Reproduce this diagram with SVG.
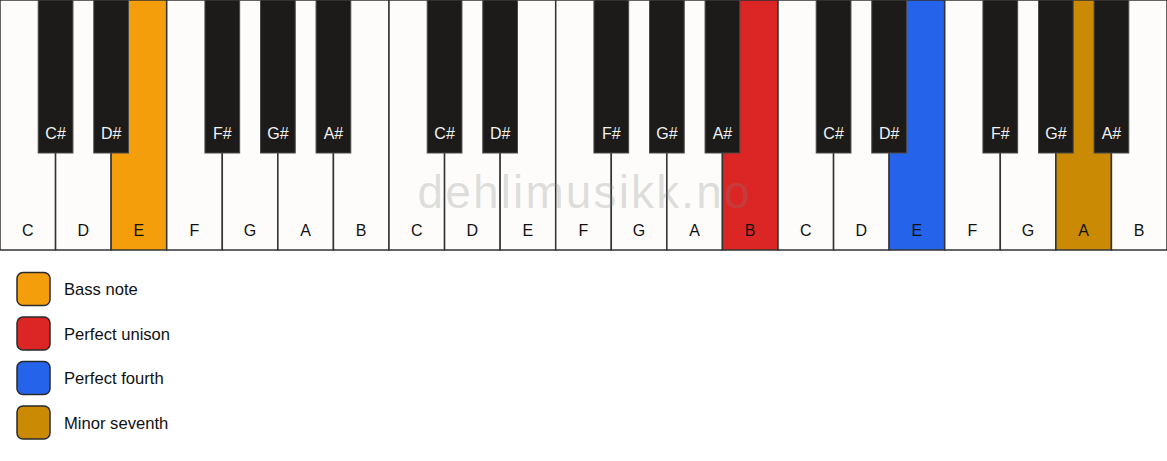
<svg xmlns="http://www.w3.org/2000/svg" width="1167" height="461" viewBox="0 0 1167 461">
<style>
.w{fill:#fdfcfa;stroke:#333;stroke-width:1.5}
.b{fill:#1c1b19;stroke:#4a4a4a;stroke-width:1}
.t{font-family:"Liberation Sans",Arial,sans-serif;font-size:16px;text-anchor:middle}
.tw{fill:#111}
.tb{fill:#f2f2f2}
.lg{stroke:#2a2a2a;stroke-width:1.5}
.lt{font-family:"Liberation Sans",Arial,sans-serif;font-size:16.6px;fill:#111;dominant-baseline:central}
</style>
<rect width="1167" height="461" fill="#ffffff"/>
<g id="white-keys">
<g id="w0"><rect class="w" x="0" y="0" width="55.57" height="250"/><text class="t tw" x="27.79" y="236">C</text></g>
<g id="w1"><rect class="w" x="55.57" y="0" width="55.57" height="250"/><text class="t tw" x="83.36" y="236">D</text></g>
<g id="w2"><rect class="w" x="111.14" y="0" width="55.57" height="250" style="fill:#f59e0b"/><text class="t tw" x="138.93" y="236">E</text></g>
<g id="w3"><rect class="w" x="166.71" y="0" width="55.57" height="250"/><text class="t tw" x="194.5" y="236">F</text></g>
<g id="w4"><rect class="w" x="222.29" y="0" width="55.57" height="250"/><text class="t tw" x="250.07" y="236">G</text></g>
<g id="w5"><rect class="w" x="277.86" y="0" width="55.57" height="250"/><text class="t tw" x="305.64" y="236">A</text></g>
<g id="w6"><rect class="w" x="333.43" y="0" width="55.57" height="250"/><text class="t tw" x="361.21" y="236">B</text></g>
<g id="w7"><rect class="w" x="389" y="0" width="55.57" height="250"/><text class="t tw" x="416.79" y="236">C</text></g>
<g id="w8"><rect class="w" x="444.57" y="0" width="55.57" height="250"/><text class="t tw" x="472.36" y="236">D</text></g>
<g id="w9"><rect class="w" x="500.14" y="0" width="55.57" height="250"/><text class="t tw" x="527.93" y="236">E</text></g>
<g id="w10"><rect class="w" x="555.71" y="0" width="55.57" height="250"/><text class="t tw" x="583.5" y="236">F</text></g>
<g id="w11"><rect class="w" x="611.29" y="0" width="55.57" height="250"/><text class="t tw" x="639.07" y="236">G</text></g>
<g id="w12"><rect class="w" x="666.86" y="0" width="55.57" height="250"/><text class="t tw" x="694.64" y="236">A</text></g>
<g id="w13"><rect class="w" x="722.43" y="0" width="55.57" height="250" style="fill:#dc2626"/><text class="t tw" x="750.21" y="236">B</text></g>
<g id="w14"><rect class="w" x="778" y="0" width="55.57" height="250"/><text class="t tw" x="805.79" y="236">C</text></g>
<g id="w15"><rect class="w" x="833.57" y="0" width="55.57" height="250"/><text class="t tw" x="861.36" y="236">D</text></g>
<g id="w16"><rect class="w" x="889.14" y="0" width="55.57" height="250" style="fill:#2563eb"/><text class="t tw" x="916.93" y="236">E</text></g>
<g id="w17"><rect class="w" x="944.71" y="0" width="55.57" height="250"/><text class="t tw" x="972.5" y="236">F</text></g>
<g id="w18"><rect class="w" x="1000.29" y="0" width="55.57" height="250"/><text class="t tw" x="1028.07" y="236">G</text></g>
<g id="w19"><rect class="w" x="1055.86" y="0" width="55.57" height="250" style="fill:#ca8a04"/><text class="t tw" x="1083.64" y="236">A</text></g>
<g id="w20"><rect class="w" x="1111.43" y="0" width="55.57" height="250"/><text class="t tw" x="1139.21" y="236">B</text></g>
</g>
<text id="watermark" x="583.5" y="208" font-family="'Liberation Sans',Arial,sans-serif" font-size="46" text-anchor="middle" textLength="332" lengthAdjust="spacing" fill="#808080" fill-opacity="0.25">dehlimusikk.no</text>
<g id="black-keys">
<g id="b1"><rect class="b" x="38.21" y="0" width="34.73" height="153"/><text class="t tb" x="55.57" y="139">C#</text></g>
<g id="b2"><rect class="b" x="93.78" y="0" width="34.73" height="153"/><text class="t tb" x="111.14" y="139">D#</text></g>
<g id="b4"><rect class="b" x="204.93" y="0" width="34.73" height="153"/><text class="t tb" x="222.29" y="139">F#</text></g>
<g id="b5"><rect class="b" x="260.5" y="0" width="34.73" height="153"/><text class="t tb" x="277.86" y="139">G#</text></g>
<g id="b6"><rect class="b" x="316.07" y="0" width="34.73" height="153"/><text class="t tb" x="333.43" y="139">A#</text></g>
<g id="b8"><rect class="b" x="427.21" y="0" width="34.73" height="153"/><text class="t tb" x="444.57" y="139">C#</text></g>
<g id="b9"><rect class="b" x="482.78" y="0" width="34.73" height="153"/><text class="t tb" x="500.14" y="139">D#</text></g>
<g id="b11"><rect class="b" x="593.93" y="0" width="34.73" height="153"/><text class="t tb" x="611.29" y="139">F#</text></g>
<g id="b12"><rect class="b" x="649.5" y="0" width="34.73" height="153"/><text class="t tb" x="666.86" y="139">G#</text></g>
<g id="b13"><rect class="b" x="705.07" y="0" width="34.73" height="153"/><text class="t tb" x="722.43" y="139">A#</text></g>
<g id="b15"><rect class="b" x="816.21" y="0" width="34.73" height="153"/><text class="t tb" x="833.57" y="139">C#</text></g>
<g id="b16"><rect class="b" x="871.78" y="0" width="34.73" height="153"/><text class="t tb" x="889.14" y="139">D#</text></g>
<g id="b18"><rect class="b" x="982.93" y="0" width="34.73" height="153"/><text class="t tb" x="1000.29" y="139">F#</text></g>
<g id="b19"><rect class="b" x="1038.5" y="0" width="34.73" height="153"/><text class="t tb" x="1055.86" y="139">G#</text></g>
<g id="b20"><rect class="b" x="1094.07" y="0" width="34.73" height="153"/><text class="t tb" x="1111.43" y="139">A#</text></g>
</g>
<g id="legend">
<g id="lg-bass"><rect class="lg" x="17" y="272.5" width="33" height="33" rx="6" fill="#f59e0b"/><text class="lt" x="64" y="289.5">Bass note</text></g>
<g id="lg-unison"><rect class="lg" x="17" y="317" width="33" height="33" rx="6" fill="#dc2626"/><text class="lt" x="64" y="334">Perfect unison</text></g>
<g id="lg-fourth"><rect class="lg" x="17" y="361.5" width="33" height="33" rx="6" fill="#2563eb"/><text class="lt" x="64" y="378.5">Perfect fourth</text></g>
<g id="lg-seventh"><rect class="lg" x="17" y="406" width="33" height="33" rx="6" fill="#ca8a04"/><text class="lt" x="64" y="423">Minor seventh</text></g>
</g>
</svg>
